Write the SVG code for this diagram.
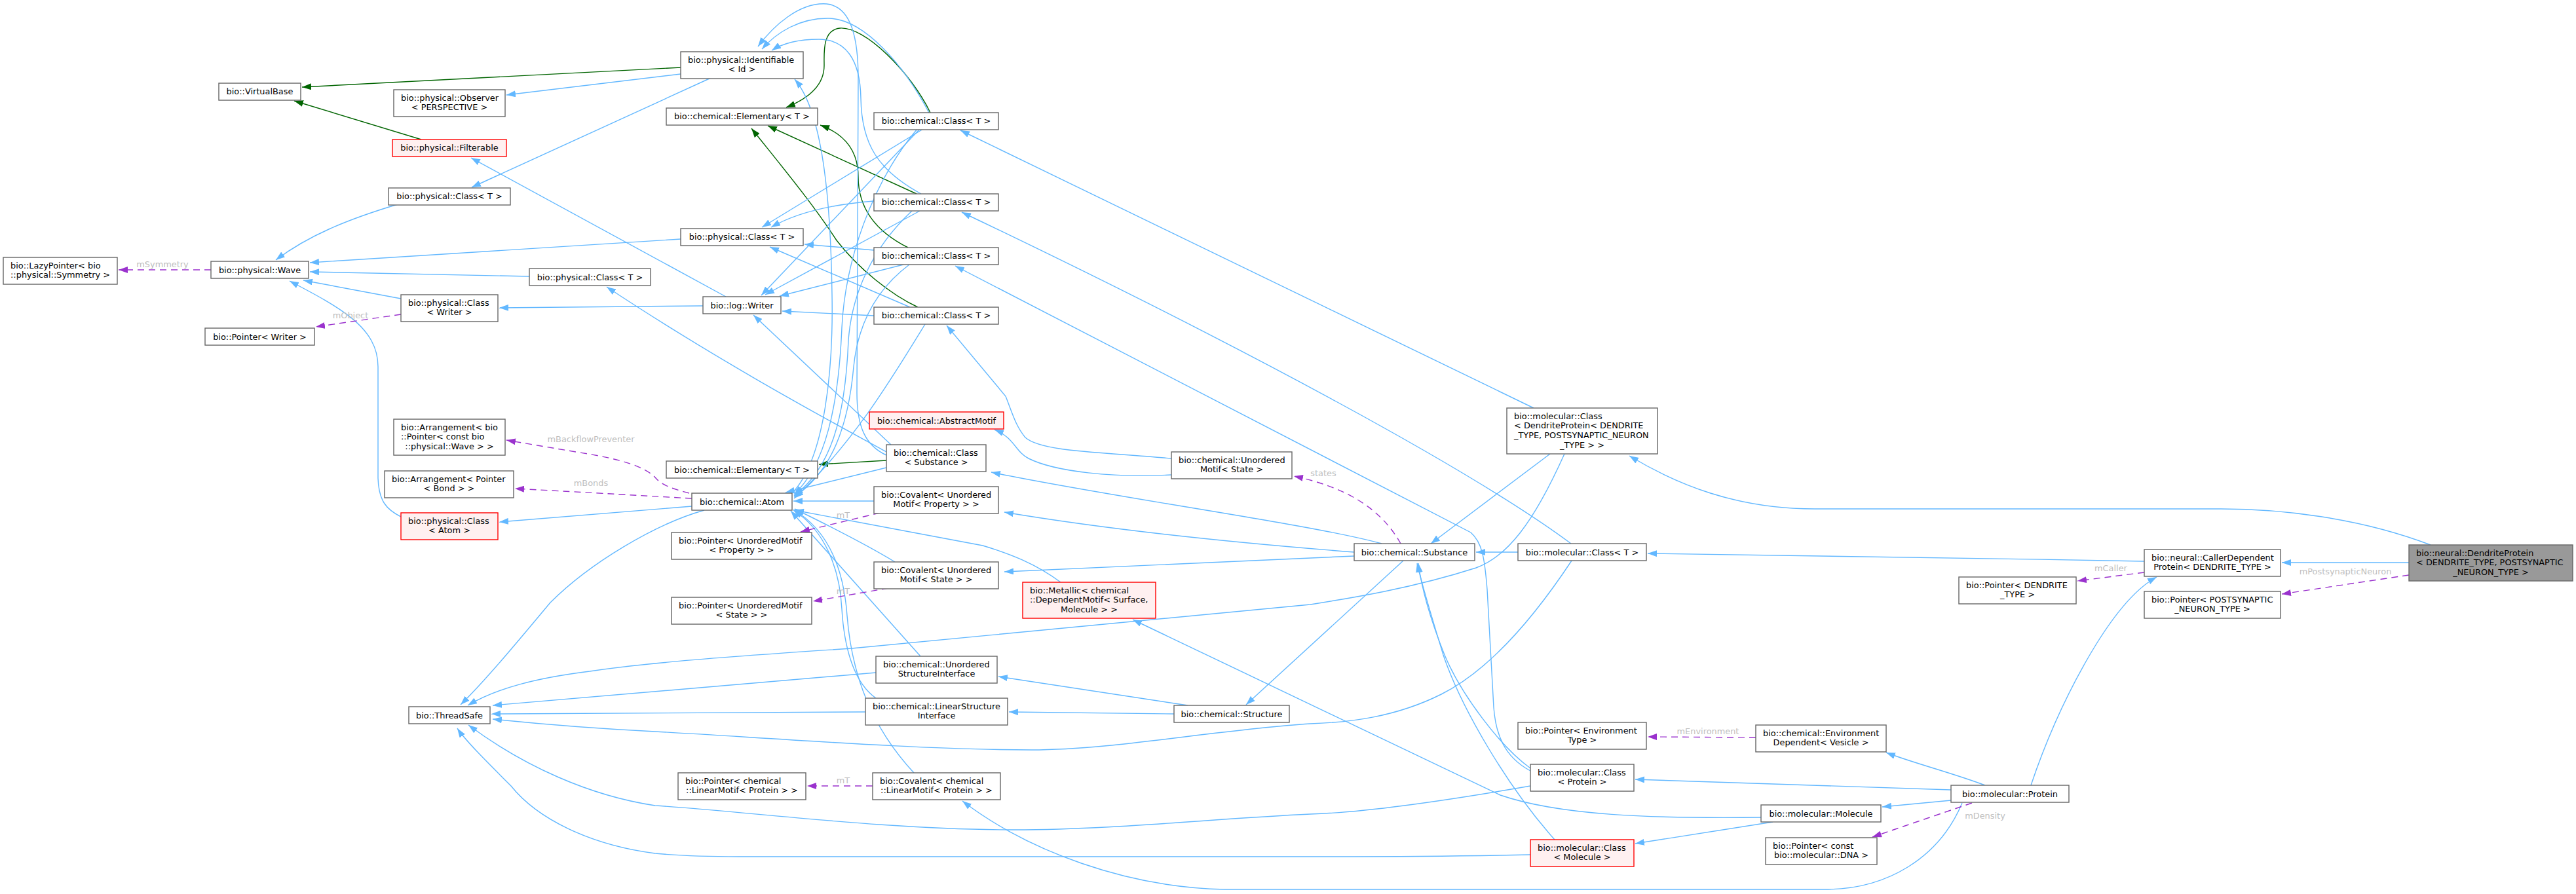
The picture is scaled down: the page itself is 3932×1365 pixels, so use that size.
<svg xmlns="http://www.w3.org/2000/svg" width="3932" height="1365" viewBox="0 0 3932 1365">
<defs>
<style>
.node rect{fill:#ffffff;stroke:#666666;stroke-width:1.4}
.red rect{fill:#fff0f0;stroke:#ff0000}
.gray rect{fill:#999999;stroke:#666666}
text{font-family:"DejaVu Sans","Liberation Sans",sans-serif;font-size:12.9px;fill:#000000}
.c{text-anchor:middle}
#edges path{fill:none;stroke-width:1.4}
.pub{stroke:#63b8ff;marker-end:url(#ab)}
.virt{stroke:#006400;marker-end:url(#ag)}
.use{stroke:#9a32cd;stroke-dasharray:10,7;marker-end:url(#ap)}
.lbl{fill:#bebebe;text-anchor:middle}
</style>
<marker id="ab" markerUnits="userSpaceOnUse" markerWidth="14" markerHeight="10" viewBox="0 0 14 10" refX="14" refY="5" orient="auto"><path d="M0,0 L14,5 L0,10 z" fill="#63b8ff"/></marker>
<marker id="ag" markerUnits="userSpaceOnUse" markerWidth="14" markerHeight="10" viewBox="0 0 14 10" refX="14" refY="5" orient="auto"><path d="M0,0 L14,5 L0,10 z" fill="#006400"/></marker>
<marker id="ap" markerUnits="userSpaceOnUse" markerWidth="14" markerHeight="10" viewBox="0 0 14 10" refX="14" refY="5" orient="auto"><path d="M0,0 L14,5 L0,10 z" fill="#9a32cd"/></marker>
</defs>
<rect x="0" y="0" width="3932" height="1365" fill="#ffffff"/>
<g id="edges">
<path class="virt" d="M1039,103 L461,133"/>
<path class="virt" d="M643,213 L449,154"/>
<path class="virt" d="M1420,172 C1390,110 1320,40 1282,43 C1255,46 1258,80 1258,100 C1258,130 1235,150 1200,164"/>
<path class="virt" d="M1399,296 L1172,192"/>
<path class="virt" d="M1386,378 C1340,355 1310,320 1310,270 C1310,230 1290,205 1252,191"/>
<path class="virt" d="M1401,469 C1360,450 1310,410 1277,367 C1240,310 1190,250 1147,196"/>
<path class="virt" d="M1353,703 L1250,709"/>
<path class="pub" d="M607,312 C530,335 470,360 421,397"/>
<path class="pub" d="M1039,365 L473,401"/>
<path class="pub" d="M808,422 L473,415"/>
<path class="pub" d="M612,456 L463,428"/>
<path class="pub" d="M612,789 C590,778 578,765 577,730 L577,560 C577,500 520,470 442,429"/>
<path class="pub" d="M1039,113 L773,145"/>
<path class="pub" d="M1085,119 L720,286"/>
<path class="pub" d="M1108,453 L719,241"/>
<path class="pub" d="M1073,467 L762,470"/>
<path class="pub" d="M1353,690 C1290,655 1110,560 926,438"/>
<path class="pub" d="M1360,679 L1150,481"/>
<path class="pub" d="M1409,197 L1163,347"/>
<path class="pub" d="M1334,307 C1270,312 1215,325 1177,347"/>
<path class="pub" d="M1334,382 L1228,373"/>
<path class="pub" d="M1389,469 L1175,377"/>
<path class="pub" d="M1404,197 L1162,451"/>
<path class="pub" d="M1404,322 L1168,450"/>
<path class="pub" d="M1379,404 L1190,452"/>
<path class="pub" d="M1334,482 L1194,475"/>
<path class="pub" d="M2341,623 L1466,199"/>
<path class="pub" d="M2398,830 C2250,720 1900,530 1468,324"/>
<path class="pub" d="M2336,1177 C2295,1155 2283,1120 2280,1080 L2270,900 C2266,850 2262,828 2245,813 L1458,406"/>
<path class="pub" d="M1788,700 C1680,690 1590,690 1565,668 C1550,650 1545,630 1535,605 L1445,497"/>
<path class="pub" d="M1788,725 C1700,730 1610,720 1570,700 C1550,690 1548,668 1518,656"/>
<path class="pub" d="M2109,830 C2000,800 1700,760 1513,721"/>
<path class="pub" d="M2067,843 C1900,830 1700,810 1533,782"/>
<path class="pub" d="M2067,849 L1533,873"/>
<path class="pub" d="M2142,856 L1902,1076"/>
<path class="pub" d="M2317,843 L2253,843"/>
<path class="pub" d="M2366,693 L2184,830"/>
<path class="pub" d="M3273,857 C3000,852 2700,847 2515,845"/>
<path class="pub" d="M3677,859 L3483,859"/>
<path class="pub" d="M3710,832 C3600,790 3480,777 3390,777 L2770,777 C2650,777 2560,740 2487,696"/>
<path class="pub" d="M3100,1199 C3140,1080 3220,920 3292,881"/>
<path class="pub" d="M2978,1206 L2496,1190"/>
<path class="pub" d="M2978,1222 L2873,1232"/>
<path class="pub" d="M3030,1199 C2980,1180 2920,1165 2879,1149"/>
<path class="pub" d="M2706,1255 L2496,1288"/>
<path class="pub" d="M2688,1248 C2520,1250 2380,1245 2290,1214 L1729,946"/>
<path class="pub" d="M2336,1173 C2290,1140 2230,1060 2205,1000 C2185,950 2170,900 2165,860"/>
<path class="pub" d="M2373,1282 C2300,1200 2230,1080 2203,1000 C2188,950 2172,900 2163,860"/>
<path class="pub" d="M1813,1077 L1524,1033"/>
<path class="pub" d="M1792,1090 L1540,1087"/>
<path class="pub" d="M2995,1226 C2960,1310 2880,1358 2786,1358 L1870,1358 C1720,1355 1570,1300 1469,1223"/>
<path class="pub" d="M1056,773 L762,797"/>
<path class="pub" d="M1075,779 C1000,800 900,860 840,920 C790,980 740,1040 703,1076"/>
<path class="pub" d="M1353,714 L1199,752"/>
<path class="pub" d="M1334,765 L1211,765"/>
<path class="pub" d="M1366,858 C1320,830 1270,805 1213,777"/>
<path class="pub" d="M1619,889 C1580,860 1540,845 1500,833 L1213,779"/>
<path class="pub" d="M1405,1002 L1207,780"/>
<path class="pub" d="M1337,1066 C1300,1040 1288,980 1285,930 C1282,870 1260,810 1211,779"/>
<path class="pub" d="M1395,1180 C1330,1110 1300,1030 1293,940 C1288,870 1265,810 1211,778"/>
<path class="pub" d="M1400,197 C1330,280 1290,400 1285,500 C1280,620 1260,710 1212,755"/>
<path class="pub" d="M1392,322 C1330,380 1300,450 1295,520 C1290,640 1268,715 1212,757"/>
<path class="pub" d="M1388,404 C1340,440 1310,490 1303,560 C1295,650 1270,720 1212,759"/>
<path class="pub" d="M1412,495 C1360,580 1300,680 1212,761"/>
<path class="pub" d="M1209,753 C1260,700 1272,560 1270,450 C1268,300 1255,170 1213,121"/>
<path class="pub" d="M1353,695 C1320,680 1308,650 1308,600 L1310,120 C1310,60 1300,10 1262,6 C1220,3 1180,40 1157,71"/>
<path class="pub" d="M1418,172 C1380,100 1320,30 1266,28 C1220,27 1185,50 1163,75"/>
<path class="pub" d="M1406,296 C1340,260 1315,220 1314,150 C1313,90 1290,60 1250,60 C1220,60 1195,66 1178,77"/>
<path class="pub" d="M2388,693 C2340,800 2300,850 2253,867 C2150,900 2050,915 2000,923 L1300,990 C1150,1000 1000,1010 900,1025 C820,1035 760,1050 714,1077"/>
<path class="pub" d="M1337,1027 L752,1077"/>
<path class="pub" d="M1321,1087 L750,1090"/>
<path class="pub" d="M2399,856 C2350,930 2280,1020 2200,1060 C2130,1095 2060,1103 2000,1105 C1850,1115 1700,1145 1574,1145 C1400,1145 1150,1125 1000,1117 C900,1112 800,1103 752,1098"/>
<path class="pub" d="M2336,1200 C2250,1215 2100,1240 2000,1243 C1850,1250 1700,1267 1548,1267 C1350,1267 1150,1240 1000,1230 C900,1215 800,1170 715,1107"/>
<path class="pub" d="M2336,1305 C2200,1308 2100,1308 2000,1308 L1128,1308 C1060,1308 1030,1306 1000,1303 C900,1290 820,1250 780,1200 C740,1160 710,1130 698,1112"/>
<path class="use" d="M322,412 L181,412"/>
<path class="use" d="M612,480 L482,499"/>
<path class="use" d="M1052,753 C1020,745 1008,738 1001,730 C985,712 945,700 879,690 L773,672"/>
<path class="use" d="M1056,761 C1000,758 900,752 786,746"/>
<path class="use" d="M1343,783 L1222,812"/>
<path class="use" d="M1356,898 L1241,918"/>
<path class="use" d="M1332,1200 L1232,1200"/>
<path class="use" d="M2138,830 C2110,780 2060,745 1975,727"/>
<path class="use" d="M2680,1126 L2515,1125"/>
<path class="use" d="M3010,1226 L2858,1278"/>
<path class="use" d="M3273,874 L3171,887"/>
<path class="use" d="M3677,878 L3483,907"/>
<text class="lbl" x="248" y="408">mSymmetry</text>
<text class="lbl" x="535" y="486">mObject</text>
<text class="lbl" x="902" y="675">mBackflowPreventer</text>
<text class="lbl" x="902" y="742">mBonds</text>
<text class="lbl" x="1287" y="791">mT</text>
<text class="lbl" x="1287" y="907">mT</text>
<text class="lbl" x="1287" y="1196">mT</text>
<text class="lbl" x="2020" y="727">states</text>
<text class="lbl" x="2607" y="1121">mEnvironment</text>
<text class="lbl" x="3030" y="1250">mDensity</text>
<text class="lbl" x="3222" y="872">mCaller</text>
<text class="lbl" x="3580" y="877">mPostsynapticNeuron</text>
</g>
<g id="nodes">
<g id="n_virtualbase" class="node"><rect x="334" y="127" width="125" height="26"/><text class="c" x="396.5" y="144">bio::VirtualBase</text></g>
<g id="n_identifiable" class="node"><rect x="1039" y="79" width="187" height="41"/><text x="1050" y="95.5">bio::physical::Identifiable</text><text class="c" x="1132.5" y="110.2">&lt; Id &gt;</text></g>
<g id="n_observer" class="node"><rect x="601" y="137" width="170" height="41"/><text x="612" y="153.5">bio::physical::Observer</text><text class="c" x="686" y="168.2">&lt; PERSPECTIVE &gt;</text></g>
<g id="n_filterable" class="node red"><rect x="599" y="213" width="174" height="26"/><text class="c" x="686" y="230">bio::physical::Filterable</text></g>
<g id="n_pclassA" class="node"><rect x="593" y="287" width="186" height="26"/><text class="c" x="686" y="304">bio::physical::Class&lt; T &gt;</text></g>
<g id="n_elem1" class="node"><rect x="1017" y="165" width="231" height="26"/><text class="c" x="1132.5" y="182">bio::chemical::Elementary&lt; T &gt;</text></g>
<g id="n_cclass1" class="node"><rect x="1334" y="172" width="190" height="26"/><text class="c" x="1429" y="189">bio::chemical::Class&lt; T &gt;</text></g>
<g id="n_cclass2" class="node"><rect x="1334" y="296" width="190" height="26"/><text class="c" x="1429" y="313">bio::chemical::Class&lt; T &gt;</text></g>
<g id="n_pclassB" class="node"><rect x="1039" y="349" width="187" height="26"/><text class="c" x="1132.5" y="366">bio::physical::Class&lt; T &gt;</text></g>
<g id="n_cclass3" class="node"><rect x="1334" y="378" width="190" height="26"/><text class="c" x="1429" y="395">bio::chemical::Class&lt; T &gt;</text></g>
<g id="n_lazy" class="node"><rect x="5" y="393" width="174" height="41"/><text x="16" y="409.5">bio::LazyPointer&lt; bio</text><text class="c" x="92" y="424.2">::physical::Symmetry &gt;</text></g>
<g id="n_wave" class="node"><rect x="322" y="399" width="149" height="26"/><text class="c" x="396.5" y="416.5">bio::physical::Wave</text></g>
<g id="n_pclassC" class="node"><rect x="808" y="410" width="185" height="26"/><text class="c" x="900.5" y="427.5">bio::physical::Class&lt; T &gt;</text></g>
<g id="n_pclassWriter" class="node"><rect x="612" y="450" width="148" height="41"/><text x="623" y="466.5">bio::physical::Class</text><text class="c" x="686" y="481.2">&lt; Writer &gt;</text></g>
<g id="n_writer" class="node"><rect x="1073" y="453" width="119" height="26"/><text class="c" x="1132.5" y="470.5">bio::log::Writer</text></g>
<g id="n_cclass4" class="node"><rect x="1334" y="469" width="190" height="26"/><text class="c" x="1429" y="486">bio::chemical::Class&lt; T &gt;</text></g>
<g id="n_ptrWriter" class="node"><rect x="313" y="501" width="167" height="26"/><text class="c" x="396.5" y="518.5">bio::Pointer&lt; Writer &gt;</text></g>
<g id="n_abstractmotif" class="node red"><rect x="1327" y="629" width="205" height="26"/><text class="c" x="1429.5" y="646.5">bio::chemical::AbstractMotif</text></g>
<g id="n_arrWave" class="node"><rect x="601" y="640" width="170" height="55"/><text x="612" y="656.5">bio::Arrangement&lt; bio</text><text x="612" y="671.2">::Pointer&lt; const bio</text><text class="c" x="686" y="685.9">::physical::Wave &gt; &gt;</text></g>
<g id="n_classSubstance" class="node"><rect x="1353" y="679" width="152" height="41"/><text x="1364" y="695.5">bio::chemical::Class</text><text class="c" x="1429" y="710.2">&lt; Substance &gt;</text></g>
<g id="n_umState" class="node"><rect x="1788" y="690" width="184" height="41"/><text x="1799" y="706.5">bio::chemical::Unordered</text><text class="c" x="1880" y="721.2">Motif&lt; State &gt;</text></g>
<g id="n_elem2" class="node"><rect x="1017" y="704" width="231" height="26"/><text class="c" x="1132.5" y="721.5">bio::chemical::Elementary&lt; T &gt;</text></g>
<g id="n_arrBond" class="node"><rect x="587" y="719" width="197" height="41"/><text x="598" y="735.5">bio::Arrangement&lt; Pointer</text><text class="c" x="685.5" y="750.2">&lt; Bond &gt; &gt;</text></g>
<g id="n_molClassDendrite" class="node"><rect x="2300" y="623" width="230" height="70"/><text x="2311" y="639.5">bio::molecular::Class</text><text x="2311" y="654.2">&lt; DendriteProtein&lt; DENDRITE</text><text x="2311" y="668.9">_TYPE, POSTSYNAPTIC_NEURON</text><text class="c" x="2415" y="683.6">_TYPE &gt; &gt;</text></g>
<g id="n_covProp" class="node"><rect x="1334" y="743" width="190" height="41"/><text x="1345" y="759.5">bio::Covalent&lt; Unordered</text><text class="c" x="1429" y="774.2">Motif&lt; Property &gt; &gt;</text></g>
<g id="n_atom" class="node"><rect x="1056" y="753" width="153" height="26"/><text class="c" x="1132.5" y="770.5">bio::chemical::Atom</text></g>
<g id="n_pclassAtom" class="node red"><rect x="612" y="783" width="148" height="41"/><text x="623" y="799.5">bio::physical::Class</text><text class="c" x="686" y="814.2">&lt; Atom &gt;</text></g>
<g id="n_ptrUMProp" class="node"><rect x="1025" y="813" width="214" height="41"/><text x="1036" y="829.5">bio::Pointer&lt; UnorderedMotif</text><text class="c" x="1132" y="844.2">&lt; Property &gt; &gt;</text></g>
<g id="n_substance" class="node"><rect x="2067" y="830" width="184" height="26"/><text class="c" x="2159" y="847.5">bio::chemical::Substance</text></g>
<g id="n_molClassT" class="node"><rect x="2317" y="830" width="196" height="26"/><text class="c" x="2415" y="847.5">bio::molecular::Class&lt; T &gt;</text></g>
<g id="n_caller" class="node"><rect x="3273" y="839" width="208" height="41"/><text x="3284" y="855.5">bio::neural::CallerDependent</text><text class="c" x="3377" y="870.2">Protein&lt; DENDRITE_TYPE &gt;</text></g>
<g id="n_dendrite" class="node gray"><rect x="3677" y="832" width="250" height="55"/><text x="3688" y="848.5">bio::neural::DendriteProtein</text><text x="3688" y="863.2">&lt; DENDRITE_TYPE, POSTSYNAPTIC</text><text class="c" x="3802" y="877.9">_NEURON_TYPE &gt;</text></g>
<g id="n_ptrDendrite" class="node"><rect x="2990" y="881" width="179" height="41"/><text x="3001" y="897.5">bio::Pointer&lt; DENDRITE</text><text class="c" x="3079.5" y="912.2">_TYPE &gt;</text></g>
<g id="n_ptrPost" class="node"><rect x="3273" y="903" width="208" height="41"/><text x="3284" y="919.5">bio::Pointer&lt; POSTSYNAPTIC</text><text class="c" x="3377" y="934.2">_NEURON_TYPE &gt;</text></g>
<g id="n_covState" class="node"><rect x="1334" y="858" width="190" height="41"/><text x="1345" y="874.5">bio::Covalent&lt; Unordered</text><text class="c" x="1429" y="889.2">Motif&lt; State &gt; &gt;</text></g>
<g id="n_metallic" class="node red"><rect x="1561" y="889" width="203" height="55"/><text x="1572" y="905.5">bio::Metallic&lt; chemical</text><text x="1572" y="920.2">::DependentMotif&lt; Surface,</text><text class="c" x="1662.5" y="934.9">Molecule &gt; &gt;</text></g>
<g id="n_ptrUMState" class="node"><rect x="1025" y="912" width="214" height="41"/><text x="1036" y="928.5">bio::Pointer&lt; UnorderedMotif</text><text class="c" x="1132" y="943.2">&lt; State &gt; &gt;</text></g>
<g id="n_usi" class="node"><rect x="1337" y="1002" width="185" height="41"/><text x="1348" y="1018.5">bio::chemical::Unordered</text><text class="c" x="1429.5" y="1033.2">StructureInterface</text></g>
<g id="n_lsi" class="node"><rect x="1321" y="1066" width="217" height="41"/><text x="1332" y="1082.5">bio::chemical::LinearStructure</text><text class="c" x="1429.5" y="1097.2">Interface</text></g>
<g id="n_threadsafe" class="node"><rect x="624" y="1079" width="124" height="26"/><text class="c" x="686" y="1096.5">bio::ThreadSafe</text></g>
<g id="n_structure" class="node"><rect x="1792" y="1077" width="176" height="26"/><text class="c" x="1880" y="1094.5">bio::chemical::Structure</text></g>
<g id="n_ptrEnv" class="node"><rect x="2317" y="1103" width="196" height="41"/><text x="2328" y="1119.5">bio::Pointer&lt; Environment</text><text class="c" x="2415" y="1134.2">Type &gt;</text></g>
<g id="n_envDep" class="node"><rect x="2680" y="1107" width="199" height="41"/><text x="2691" y="1123.5">bio::chemical::Environment</text><text class="c" x="2779.5" y="1138.2">Dependent&lt; Vesicle &gt;</text></g>
<g id="n_molClassProtein" class="node"><rect x="2336" y="1167" width="158" height="41"/><text x="2347" y="1183.5">bio::molecular::Class</text><text class="c" x="2415" y="1198.2">&lt; Protein &gt;</text></g>
<g id="n_ptrLinear" class="node"><rect x="1035" y="1180" width="195" height="41"/><text x="1046" y="1196.5">bio::Pointer&lt; chemical</text><text class="c" x="1132.5" y="1211.2">::LinearMotif&lt; Protein &gt; &gt;</text></g>
<g id="n_covLinear" class="node"><rect x="1332" y="1180" width="195" height="41"/><text x="1343" y="1196.5">bio::Covalent&lt; chemical</text><text class="c" x="1429.5" y="1211.2">::LinearMotif&lt; Protein &gt; &gt;</text></g>
<g id="n_protein" class="node"><rect x="2978" y="1199" width="180" height="26"/><text class="c" x="3068" y="1216.5">bio::molecular::Protein</text></g>
<g id="n_molecule" class="node"><rect x="2688" y="1229" width="183" height="26"/><text class="c" x="2779.5" y="1246.5">bio::molecular::Molecule</text></g>
<g id="n_molClassMolecule" class="node red"><rect x="2336" y="1282" width="158" height="41"/><text x="2347" y="1298.5">bio::molecular::Class</text><text class="c" x="2415" y="1313.2">&lt; Molecule &gt;</text></g>
<g id="n_ptrDNA" class="node"><rect x="2695" y="1279" width="170" height="41"/><text x="2706" y="1295.5">bio::Pointer&lt; const</text><text class="c" x="2780" y="1310.2">bio::molecular::DNA &gt;</text></g>
</g>
</svg>
